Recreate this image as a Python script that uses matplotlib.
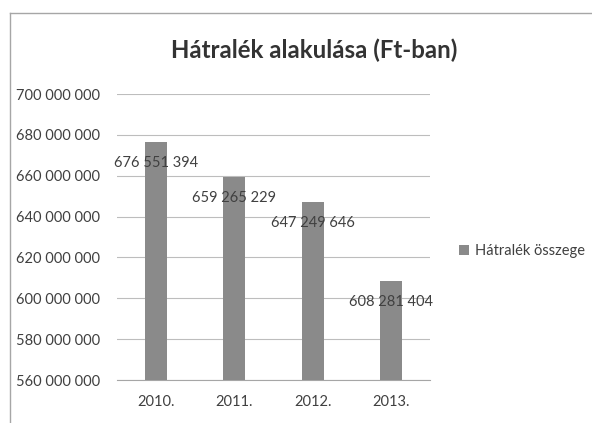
import matplotlib
matplotlib.use("Agg")
import matplotlib.pyplot as plt
from matplotlib.lines import Line2D
from matplotlib.ticker import FuncFormatter

plt.rcParams['font.family'] = ['Lato', 'DejaVu Sans']

years = ["2010.", "2011.", "2012.", "2013."]
values = [676551394, 659265229, 647249646, 608281404]
series_name = "Hátralék összege"
title = "Hátralék alakulása (Ft-ban)"
y_min, y_max, y_step = 560000000, 700000000, 20000000

W, H = 592, 423
fig = plt.figure(figsize=(W / 100, H / 100), dpi=100)
fig.patch.set_facecolor("white")

# outer chart frame (top and left edges)
fig.add_artist(Line2D([10 / W, 1], [1 - 13 / H, 1 - 13 / H], color="#a6a6a6", lw=1.0))
fig.add_artist(Line2D([10 / W, 10 / W], [0, 1 - 13 / H], color="#a6a6a6", lw=1.0))

ax = fig.add_axes([117 / W, 1 - 380 / H, (430 - 117) / W, (380 - 94) / H])
x = range(len(years))
bars = ax.bar(x, values, width=0.28, color="#8a8a8a", label=series_name, zorder=3)

ax.set_xlim(-0.5, len(years) - 0.5)
ax.set_ylim(y_min, y_max)
ax.set_yticks(range(y_min, y_max + 1, y_step))
ax.yaxis.set_major_formatter(FuncFormatter(lambda v, p: f"{int(v):,}".replace(",", " ")))
ax.set_xticks(list(x))
ax.set_xticklabels(years)
ax.grid(axis="y", color="#bdbdbd", lw=0.8, zorder=0)
for s in ["top", "right", "left"]:
    ax.spines[s].set_visible(False)
ax.spines["bottom"].set_color("#a6a6a6")
ax.tick_params(axis="both", length=0, labelsize=10.5, colors="#404040")
ax.tick_params(axis="x", pad=11)
ax.tick_params(axis="y", pad=12)

# value labels just below each bar top
span = y_max - y_min
for xi, v in zip(x, values):
    ax.text(xi, v - span * 0.073, f"{v:,}".replace(",", " "), ha="center", va="center",
            fontsize=10.5, color="#404040", zorder=4)

fig.text(314 / W, 1 - 50 / H, title, ha="center", va="center",
         fontsize=17.3, fontweight="bold", color="#333333")

leg = fig.legend(handles=[bars], labels=[series_name], loc="center left",
                 bbox_to_anchor=(446 / W, 1 - 251 / H), frameon=False,
                 fontsize=10.5, handlelength=0.7, handleheight=0.7, handletextpad=0.4)
for t in leg.get_texts():
    t.set_color("#404040")

fig.savefig("out.png", dpi=100, facecolor="white")
